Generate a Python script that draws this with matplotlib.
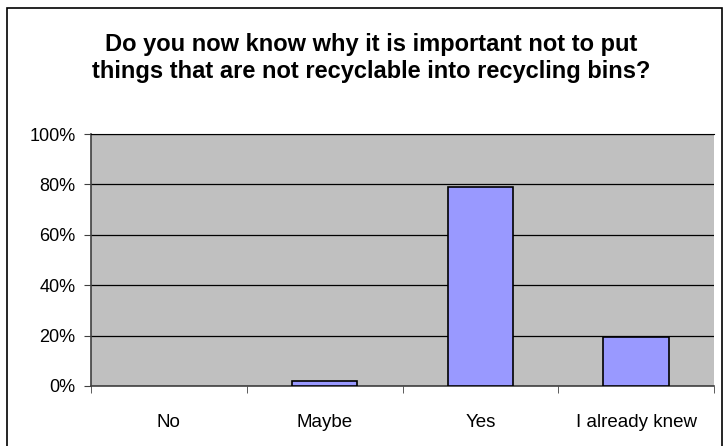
import numpy as np
import matplotlib.pyplot as plt
from matplotlib.patches import Rectangle
from matplotlib.ticker import PercentFormatter

plt.rcParams['font.family'] = ['Liberation Sans', 'DejaVu Sans']

# survey answers (share of respondents)
categories = ['No', 'Maybe', 'Yes', 'I already knew']
shares = [0.0, 2.0, 79.0, 19.5]
y_ticks = [0, 20, 40, 60, 80, 100]

fig = plt.figure(figsize=(7.24, 4.46), dpi=100)

# outer chart border
fig.patches.append(Rectangle((7 / 724, -0.05), 715 / 724, 1 - 8 / 446 + 0.05,
                             transform=fig.transFigure, fill=False,
                             edgecolor='black', linewidth=1.2))

ax = fig.add_axes([91 / 724, 1 - 386 / 446, 623 / 724, 252 / 446])
ax.set_facecolor('#C0C0C0')

x = np.arange(len(categories))
edge_w = [1.2 if s > 0 else 0 for s in shares]
ax.bar(x, shares, width=0.42, color='#9999FF', edgecolor='black',
       linewidth=edge_w, zorder=3)

ax.set_xlim(-0.5, len(categories) - 0.5)
ax.set_ylim(0, 100)
ax.set_yticks(y_ticks)
ax.yaxis.set_major_formatter(PercentFormatter(decimals=0))
ax.grid(axis='y', color='black', linewidth=0.9, zorder=1)

# category labels centred, ticks on the boundaries
ax.set_xticks(x)
ax.set_xticklabels(categories, fontsize=13.5)
ax.tick_params(axis='x', length=0, pad=20)
ax.set_xticks(np.arange(-0.5, len(categories)), minor=True)
ax.tick_params(axis='x', which='minor', length=5, direction='out', color='#404040')
ax.tick_params(axis='y', labelsize=13, length=5, pad=6, direction='out', color='#404040')

for side in ['left', 'bottom']:
    ax.spines[side].set_color('#404040')
    ax.spines[side].set_linewidth(1.2)
ax.spines['top'].set_color('black')
ax.spines['right'].set_visible(False)

fig.text(371 / 724, 1 - 58 / 446,
         'Do you now know why it is important not to put\n'
         'things that are not recyclable into recycling bins?',
         ha='center', va='center', fontsize=17, fontweight='bold',
         linespacing=1.25)

fig.savefig('out.png', dpi=100)
